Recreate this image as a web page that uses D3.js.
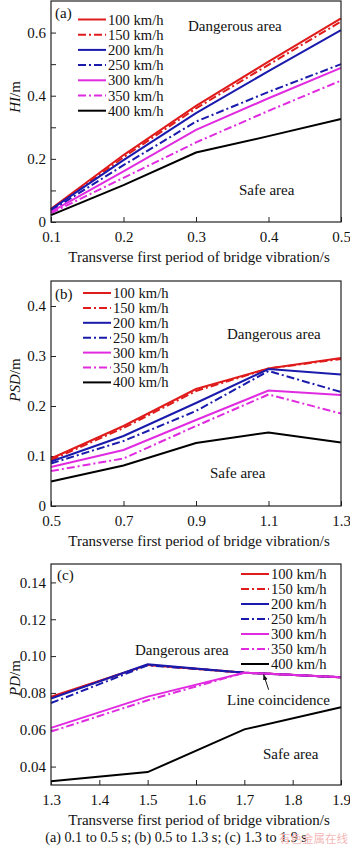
<!DOCTYPE html>
<html>
<head>
<meta charset="utf-8">
<script src="https://cdn.jsdelivr.net/npm/d3@7"></script>
<style>
  body { margin: 0; background: #fff; }
  text { font-family: "Liberation Serif", "Times New Roman", serif; fill: #111; }
</style>
</head>
<body>
<div id="chart"></div>
<script>
// series names (same in all three panels)
const speeds = ["100 km/h", "150 km/h", "200 km/h", "250 km/h", "300 km/h", "350 km/h", "400 km/h"];

// (a) 0.1 to 0.5 s
const periodA = [0.1, 0.2, 0.3, 0.4, 0.5];
const hiA = [
  [0.042, 0.212, 0.368, 0.508, 0.645],
  [0.040, 0.205, 0.360, 0.498, 0.635],
  [0.040, 0.196, 0.345, 0.478, 0.608],
  [0.036, 0.180, 0.318, 0.412, 0.500],
  [0.032, 0.160, 0.292, 0.392, 0.488],
  [0.028, 0.140, 0.252, 0.352, 0.448],
  [0.022, 0.117, 0.220, 0.272, 0.326]
];
const xTicksA = [0.1, 0.2, 0.3, 0.4, 0.5];
const yTicksA = [0, 0.2, 0.4, 0.6];
const yMinorA = [0.1, 0.3, 0.5];

// (b) 0.5 to 1.3 s
const periodB = [0.5, 0.7, 0.9, 1.1, 1.3];
const psdB = [
  [0.095, 0.160, 0.234, 0.275, 0.296],
  [0.092, 0.156, 0.230, 0.275, 0.294],
  [0.089, 0.140, 0.206, 0.274, 0.263],
  [0.085, 0.130, 0.190, 0.270, 0.228],
  [0.078, 0.112, 0.172, 0.231, 0.222],
  [0.070, 0.095, 0.160, 0.223, 0.185],
  [0.049, 0.081, 0.126, 0.147, 0.127]
];
const xTicksB = [0.5, 0.7, 0.9, 1.1, 1.3];
const yTicksB = [0, 0.1, 0.2, 0.3, 0.4];

// (c) 1.3 to 1.9 s
const periodC = [1.3, 1.5, 1.7, 1.9];
const pdC = [
  [0.0780, 0.0952, 0.0910, 0.0885],
  [0.0775, 0.0952, 0.0910, 0.0885],
  [0.0770, 0.0955, 0.0910, 0.0885],
  [0.0745, 0.0950, 0.0910, 0.0885],
  [0.0610, 0.0780, 0.0910, 0.0885],
  [0.0590, 0.0760, 0.0910, 0.0885],
  [0.0320, 0.0370, 0.0602, 0.0722]
];
const xTicksC = [1.3, 1.4, 1.5, 1.6, 1.7, 1.8, 1.9];
const yTicksC = [0.04, 0.06, 0.08, 0.10, 0.12, 0.14];

// line styles per series
const colors = ["#e01b1b", "#e01b1b", "#1a1aad", "#1a1aad", "#e02be0", "#e02be0", "#000000"];
const dashes = [null, "8,3,2,3", null, "8,3,2,3", null, "8,3,2,3", null];

const W = 350, H = 847;
const svg = d3.select("#chart").append("svg")
  .attr("width", W).attr("height", H);
svg.append("rect").attr("width", W).attr("height", H).attr("fill", "#fff");

const left = 51, right = 341;

function drawPanel(p) {
  const g = svg.append("g");
  const x = d3.scaleLinear().domain(p.xDomain).range([left, right]);
  const y = d3.scaleLinear().domain(p.yDomain).range([p.bottom, p.top]);

  // x axis, ticks inside
  g.append("g")
    .attr("transform", `translate(0,${p.bottom})`)
    .call(d3.axisBottom(x).tickValues(p.xTicks).tickSize(-5).tickSizeOuter(0)
      .tickPadding(9).tickFormat(d3.format(".1f")));
  // y axis
  g.append("g")
    .attr("transform", `translate(${left},0)`)
    .call(d3.axisLeft(y).tickValues(p.yTicks).tickSize(-5).tickSizeOuter(0)
      .tickPadding(5).tickFormat(p.yFormat));
  if (p.yMinor) {
    g.append("g")
      .attr("transform", `translate(${left},0)`)
      .call(d3.axisLeft(y).tickValues(p.yMinor).tickSize(-5).tickSizeOuter(0).tickFormat(""));
  }
  g.selectAll(".domain").remove();
  g.selectAll(".tick line").attr("stroke", "#222");
  g.selectAll(".tick text").style("font-size", "15px")
    .style("font-family", '"Liberation Serif", serif').attr("fill", "#111");

  // series lines
  const line = d3.line().x((d, i) => x(p.xs[i])).y(d => y(d));
  p.values.forEach((vals, i) => {
    g.append("path")
      .datum(vals)
      .attr("d", line)
      .attr("fill", "none")
      .attr("stroke", colors[i])
      .attr("stroke-width", 2)
      .attr("stroke-dasharray", dashes[i]);
  });

  // frame
  g.append("rect")
    .attr("x", left).attr("y", p.top)
    .attr("width", right - left).attr("height", p.bottom - p.top)
    .attr("fill", "none").attr("stroke", "#222").attr("stroke-width", 1.2);

  // panel tag
  g.append("text").attr("x", p.tag[1]).attr("y", p.tag[2])
    .style("font-size", "15px").text(p.tag[0]);

  // legend
  speeds.forEach((s, i) => {
    const cy = p.legend.y + i * p.legend.dy;
    g.append("line")
      .attr("x1", p.legend.x).attr("x2", p.legend.x + 28)
      .attr("y1", cy).attr("y2", cy)
      .attr("stroke", colors[i]).attr("stroke-width", 2)
      .attr("stroke-dasharray", dashes[i]);
    g.append("text")
      .attr("x", p.legend.x + 30).attr("y", cy + 5)
      .style("font-size", "14.6px").text(s);
  });

  // area notes
  p.notes.forEach(n => {
    g.append("text").attr("x", n[1]).attr("y", n[2])
      .style("font-size", "15px").text(n[0]);
  });

  // axis titles
  g.append("text")
    .attr("x", (left + right) / 2 + 3).attr("y", p.bottom + 40)
    .attr("text-anchor", "middle").style("font-size", "15px")
    .text("Transverse first period of bridge vibration/s");

  const yl = g.append("text")
    .attr("transform", `translate(20,${p.yLabelY}) rotate(-90)`)
    .attr("text-anchor", "middle").style("font-size", "15px");
  yl.append("tspan").style("font-style", "italic").text(p.yName);
  yl.append("tspan").text("/m");

  return { x, y, g };
}

drawPanel({
  xs: periodA, values: hiA, xDomain: [0.1, 0.5], yDomain: [0, 0.7],
  top: 1, bottom: 222, xTicks: xTicksA, yTicks: yTicksA, yMinor: yMinorA,
  yFormat: d => d === 0 ? "0" : d.toFixed(1),
  tag: ["(a)", 55, 18], legend: { x: 78, y: 19.5, dy: 15.2 },
  notes: [["Dangerous area", 188, 31], ["Safe area", 239, 195]],
  yName: "HI", yLabelY: 97
});

drawPanel({
  xs: periodB, values: psdB, xDomain: [0.5, 1.3], yDomain: [0, 0.45],
  top: 281, bottom: 506, xTicks: xTicksB, yTicks: yTicksB,
  yFormat: d => d === 0 ? "0" : d.toFixed(1),
  tag: ["(b)", 55, 299], legend: { x: 83, y: 293, dy: 14.9 },
  notes: [["Dangerous area", 227, 339], ["Safe area", 210, 478]],
  yName: "PSD", yLabelY: 380
});

const pc = drawPanel({
  xs: periodC, values: pdC, xDomain: [1.3, 1.9], yDomain: [0.03, 0.15],
  top: 564, bottom: 785, xTicks: xTicksC, yTicks: yTicksC,
  yFormat: d3.format(".2f"),
  tag: ["(c)", 57, 580], legend: { x: 241, y: 574, dy: 15 },
  notes: [["Dangerous area", 135, 655], ["Line coincidence", 227, 705], ["Safe area", 263, 759]],
  yName: "PD", yLabelY: 678
});

// arrow pointing at the coinciding lines in (c)
svg.append("defs").append("marker")
  .attr("id", "arr").attr("viewBox", "0 0 10 10").attr("refX", 9).attr("refY", 5)
  .attr("markerWidth", 6).attr("markerHeight", 6).attr("orient", "auto")
  .append("path").attr("d", "M0,1L10,5L0,9Z").attr("fill", "#111");
const tipX = pc.x(1.74), tipY = pc.y(0.0904) + 1;
svg.append("line")
  .attr("x1", tipX + 5).attr("y1", tipY + 15)
  .attr("x2", tipX).attr("y2", tipY)
  .attr("stroke", "#111").attr("stroke-width", 1)
  .attr("marker-end", "url(#arr)");

// figure caption
svg.append("text")
  .attr("x", 176).attr("y", 842).attr("text-anchor", "middle")
  .style("font-size", "14.2px")
  .text("(a) 0.1 to 0.5 s; (b) 0.5 to 1.3 s; (c) 1.3 to 1.9 s");

// faint source watermark
svg.append("text")
  .attr("x", 279).attr("y", 843)
  .style("font-size", "11.5px")
  .style("font-family", '"Noto Sans CJK SC", sans-serif')
  .style("fill", "#f2b8b8")
  .text("有色金属在线");
</script>
</body>
</html>
